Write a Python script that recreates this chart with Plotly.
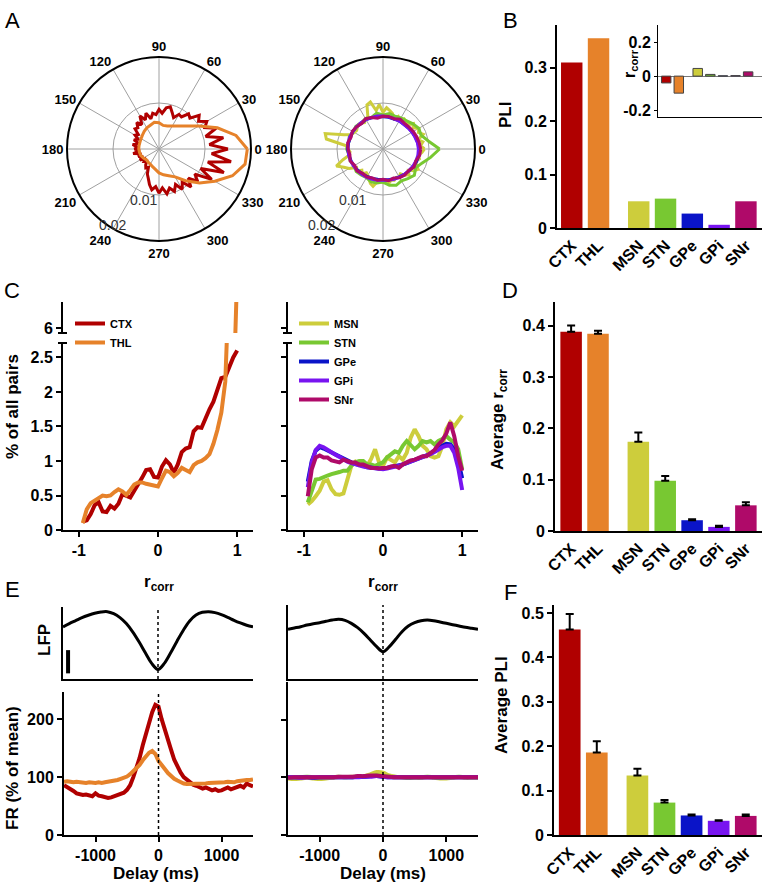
import plotly.graph_objects as go

W, H = 762, 890
FONT = "Liberation Sans, Arial, sans-serif"

REGIONS = ["CTX", "THL", "MSN", "STN", "GPe", "GPi", "SNr"]
COLORS = ["#B00000", "#E6822A", "#CDCD3C", "#78C832", "#0A14C8", "#7814F0", "#AF0A69"]
COL = dict(zip(REGIONS, COLORS))
X_POS = [0, 1, 2.5, 3.5, 4.5, 5.5, 6.5]

# --- A: phase histograms (x 1e-3) ---
THETA_5 = list(range(0, 360, 5))
THETA_10 = list(range(0, 360, 10))
CTX_PHASE = [15.0, 11.0, 14.2, 10.5, 13.2, 11.0, 12.0, 10.5, 11.4, 9.5,
             10.0, 8.5, 8.7, 7.5, 8.4, 9.5, 9.1, 7.8, 8.6, 7.5,
             7.9, 6.8, 8.3, 7.0, 8.3, 6.5, 7.5, 6.5, 6.8, 5.5,
             6.0, 5.0, 5.8, 4.5, 5.8, 4.8, 5.3, 4.2, 5.7, 4.0,
             4.8, 3.8, 4.8, 3.5, 4.2, 3.8, 4.5, 5.0, 4.6, 6.0,
             6.8, 8.0, 9.0, 8.2, 9.6, 8.5, 9.9, 8.8, 9.8, 8.5,
             10.1, 8.8, 10.8, 9.0, 11.0, 9.5, 13.2, 10.0, 15.0, 11.0,
             15.9, 11.5]
THL_PHASE = [19.2, 17.0, 13.5, 10.0, 7.8, 6.5, 5.8, 5.3, 5.2, 5.7,
             5.9, 5.5, 5.3, 5.0, 4.7, 4.5, 4.4, 4.4, 4.4, 4.3,
             4.2, 3.9, 3.6, 3.7, 3.8, 4.1, 4.5, 5.2, 5.7, 6.2,
             7.0, 9.0, 11.5, 14.0, 17.0, 19.0]
MSN_PHASE = [9.0, 8.2, 8.8, 7.9, 9.3, 8.5, 9.0, 8.0, 8.6, 7.5,
             7.8, 8.0, 7.2, 7.8, 7.0, 8.0, 8.5, 9.0, 8.0, 9.7,
             8.5, 10.6, 10.2, 7.8, 7.5, 7.0, 7.4, 7.6, 7.3, 7.0,
             7.2, 7.5, 9.0, 13.0, 12.5, 8.0, 7.6, 7.2, 7.4, 9.0,
             10.8, 9.4, 8.5, 7.0, 7.4, 6.5, 7.0, 6.3, 6.6, 7.2,
             8.0, 8.4, 7.2, 7.0, 7.3, 6.8, 7.5, 7.0, 7.2, 6.8,
             7.0, 6.6, 7.4, 8.0, 7.2, 8.2, 8.8, 8.0, 7.6, 8.2,
             7.8, 8.5]
STN_PHASE = [12.3, 10.0, 8.8, 9.0, 8.5, 8.0, 7.8, 7.6, 7.8, 7.4,
             7.9, 7.3, 7.6, 7.4, 7.7, 7.5, 7.8, 7.6, 7.9, 7.5,
             7.6, 7.3, 7.6, 7.4, 7.2, 7.6, 7.5, 7.2, 8.0, 8.4,
             8.0, 8.4, 8.9, 8.2, 9.0, 10.5]
GPE_PHASE = [7.9, 7.7, 7.5, 7.3, 7.2, 7.0, 7.1, 6.9, 7.0, 7.0,
             7.1, 7.2, 7.4, 7.3, 7.5, 7.6, 7.5, 7.6, 7.7, 7.5,
             7.4, 7.3, 7.2, 7.0, 6.9, 6.8, 6.7, 6.7, 6.8, 6.9,
             7.0, 7.2, 7.4, 7.6, 7.8, 7.9]
GPI_PHASE = [7.7, 7.6, 7.4, 7.3, 7.1, 7.0, 7.0, 7.0, 7.1, 7.2,
             7.3, 7.3, 7.4, 7.5, 7.5, 7.6, 7.7, 7.7, 7.6, 7.6,
             7.5, 7.4, 7.3, 7.2, 7.1, 7.0, 6.9, 6.8, 6.9, 7.0,
             7.1, 7.2, 7.3, 7.5, 7.6, 7.7]
SNR_PHASE = [8.2, 8.0, 7.8, 7.6, 7.4, 7.3, 7.5, 7.0, 7.2, 7.1,
             6.8, 7.3, 7.6, 7.2, 7.5, 7.7, 7.4, 7.8, 7.6, 7.3,
             7.6, 7.1, 7.4, 6.9, 7.0, 6.7, 6.9, 6.6, 7.0, 6.7,
             7.2, 7.4, 7.3, 7.8, 7.6, 8.1]
RADIAL_TICKS = [0.01, 0.02]
RADIAL_TEXT = ["0.01", "0.02"]

# --- B ---
PLI_POP = [0.310, 0.355, 0.050, 0.055, 0.027, 0.006, 0.050]
RCORR_PLI = [-0.04, -0.10, 0.045, 0.01, 0.002, 0.003, 0.025]

# --- C: r_corr distributions (% of pairs) ---
R_CORR = [-0.95, -0.9, -0.85, -0.8, -0.75, -0.7, -0.65, -0.6, -0.55, -0.5,
          -0.45, -0.4, -0.35, -0.3, -0.25, -0.2, -0.15, -0.1, -0.05, 0.0,
          0.05, 0.1, 0.15, 0.2, 0.25, 0.3, 0.35, 0.4, 0.45, 0.5,
          0.55, 0.6, 0.65, 0.7, 0.75, 0.8, 0.85, 0.9, 0.95, 1.0]
CTX_DIST = [0.12, 0.14, 0.23, 0.36, 0.40, 0.27, 0.26, 0.35, 0.31, 0.38,
            0.52, 0.49, 0.47, 0.57, 0.66, 0.76, 0.87, 0.88, 0.77, 0.76,
            0.92, 1.01, 0.95, 0.83, 0.95, 1.13, 1.18, 1.20, 1.43, 1.49,
            1.48, 1.62, 1.75, 1.86, 2.02, 2.20, 2.22, 2.36, 2.50, 2.60]
THL_DIST = [0.10, 0.30, 0.39, 0.43, 0.47, 0.50, 0.49, 0.50, 0.55, 0.59,
            0.56, 0.51, 0.58, 0.66, 0.69, 0.69, 0.67, 0.66, 0.64, 0.63,
            0.75, 0.86, 0.84, 0.78, 0.83, 0.90, 0.87, 0.84, 0.94, 0.98,
            1.00, 1.04, 1.10, 1.25, 1.45, 1.70, 2.15, 3.00, 4.70, 6.80]
MSN_DIST = [0.37, 0.42, 0.49, 0.57, 0.70, 0.72, 0.59, 0.52, 0.51, 0.53,
            0.73, 0.93, 0.99, 0.94, 0.95, 0.93, 1.03, 1.17, 0.98, 0.93,
            1.05, 1.02, 0.98, 1.07, 1.02, 1.12, 1.34, 1.46, 1.36, 1.22,
            1.17, 1.07, 1.05, 1.07, 1.22, 1.46, 1.56, 1.50, 1.58, 1.66]
STN_DIST = [0.40, 0.59, 0.73, 0.74, 0.77, 0.79, 0.81, 0.82, 0.84, 0.86,
            0.86, 0.93, 0.98, 1.00, 1.00, 0.95, 0.95, 0.93, 0.95, 0.98,
            1.05, 1.10, 1.14, 1.12, 1.22, 1.29, 1.23, 1.17, 1.22, 1.29,
            1.27, 1.29, 1.24, 1.29, 1.32, 1.36, 1.31, 1.27, 1.17, 0.88]
GPE_DIST = [0.70, 1.00, 1.15, 1.20, 1.18, 1.15, 1.12, 1.09, 1.06, 1.03,
            1.00, 0.98, 0.96, 0.95, 0.93, 0.91, 0.90, 0.89, 0.89, 0.89,
            0.90, 0.91, 0.92, 0.94, 0.95, 0.97, 0.99, 1.01, 1.03, 1.06,
            1.08, 1.11, 1.14, 1.18, 1.22, 1.25, 1.24, 1.17, 1.00, 0.75]
GPI_DIST = [0.62, 0.98, 1.16, 1.22, 1.20, 1.16, 1.12, 1.09, 1.06, 1.02,
            0.99, 0.97, 0.95, 0.94, 0.92, 0.91, 0.90, 0.89, 0.88, 0.88,
            0.89, 0.90, 0.92, 0.93, 0.95, 0.97, 0.99, 1.01, 1.03, 1.05,
            1.08, 1.10, 1.13, 1.17, 1.20, 1.22, 1.22, 1.12, 0.90, 0.58]
SNR_DIST = [0.49, 0.88, 1.05, 1.08, 1.05, 1.05, 1.01, 0.99, 0.98, 1.02,
            1.00, 0.98, 0.98, 0.95, 0.95, 0.93, 0.90, 0.90, 0.89, 0.90,
            0.90, 0.92, 0.93, 0.90, 0.95, 0.98, 1.01, 1.02, 1.05, 1.07,
            1.07, 1.12, 1.16, 1.24, 1.30, 1.40, 1.56, 1.36, 1.07, 0.86]

# --- D ---
AVG_RCORR = [0.388, 0.384, 0.174, 0.098, 0.021, 0.008, 0.050]
AVG_RCORR_SEM = [0.012, 0.006, 0.018, 0.009, 0.002, 0.002, 0.006]

# --- E: LFP-triggered averages ---
DELAY_50 = list(range(-1500, 1501, 50))
DELAY_100 = list(range(-1500, 1501, 100))
LFP_LEFT = [15.7, 16.7, 17.6, 18.5, 19.2, 19.8, 20.2, 20.3, 19.7, 18.5,
            16.7, 14.2, 11.2, 7.9, 4.7, 2.9, 4.7, 7.9, 11.4, 14.7,
            17.5, 19.3, 20.1, 20.3, 20.0, 19.4, 18.6, 17.7, 16.9, 16.2, 15.7]
LFP_RIGHT = [14.9, 15.3, 15.7, 16.2, 16.6, 16.9, 17.3, 17.7, 17.9, 17.6,
             16.7, 15.4, 13.7, 11.7, 9.7, 8.2, 9.7, 11.9, 14.2, 15.9,
             16.9, 17.5, 17.7, 17.5, 17.1, 16.7, 16.3, 15.9, 15.5, 15.2, 14.9]
CTX_FR = [86, 83, 80, 76, 72, 70, 69, 70, 68, 67,
          72, 68, 67, 65, 64, 65, 67, 68, 70, 73,
          78, 86, 100, 115, 133, 155, 176, 195, 212, 225,
          222, 200, 184, 165, 147, 130, 118, 108, 100, 95,
          90, 87, 85, 82, 80, 82, 79, 77, 79, 76,
          77, 80, 82, 79, 81, 84, 85, 82, 89, 86, 84]
THL_FR = [92, 93, 92, 91, 92, 91, 91, 90, 91, 90,
          90, 91, 90, 91, 92, 92, 93, 95, 97, 99,
          101, 105, 110, 115, 121, 129, 137, 142, 145, 140,
          128, 122, 114, 107, 101, 97, 94, 91, 89, 88,
          88, 88, 88, 89, 89, 89, 90, 90, 90, 91,
          91, 91, 92, 92, 91, 93, 94, 94, 95, 95, 96]
MSN_FR = [98, 97, 98, 99, 98, 97, 98, 99, 100, 100, 101, 101, 102, 105, 109, 108,
          103, 101, 100, 99, 99, 99, 100, 99, 98, 98, 99, 100, 99, 99, 99]
STN_FR = [100, 99, 100, 101, 100, 99, 100, 100, 101, 100, 100, 101, 101, 102, 103, 102,
          101, 100, 100, 99, 100, 100, 101, 100, 99, 100, 100, 101, 100, 100, 100]
GPE_FR = [100, 100, 100, 100, 99, 100, 100, 100, 100, 100, 100, 101, 101, 102, 102, 101,
          100, 100, 100, 100, 100, 100, 100, 100, 100, 100, 100, 100, 100, 100, 100]
GPI_FR = [100, 100, 99, 100, 100, 100, 100, 100, 100, 100, 100, 100, 101, 101, 102, 101,
          100, 100, 100, 100, 100, 100, 100, 100, 100, 100, 100, 100, 100, 100, 100]
SNR_FR = [99, 100, 100, 100, 100, 100, 100, 100, 101, 101, 101, 102, 102, 103, 103, 102,
          101, 100, 100, 100, 100, 100, 100, 100, 100, 100, 100, 100, 100, 100, 100]

# --- F ---
AVG_PLI = [0.463, 0.186, 0.134, 0.073, 0.044, 0.032, 0.043]
AVG_PLI_SEM = [0.035, 0.025, 0.015, 0.006, 0.002, 0.001, 0.003]


def px_x(px):
    return px / W


def px_y(py):
    return 1 - py / H


def tfont(size=16, bold=True, color="black"):
    return dict(family=FONT, size=size, color=color, weight="bold" if bold else "normal")


def axis(domain, anchor, **kw):
    d = dict(domain=domain, anchor=anchor, showline=True, linecolor="black", linewidth=2,
             ticks="outside", ticklen=5, tickwidth=2, tickcolor="black", automargin=False,
             showgrid=False, zeroline=False, tickfont=tfont())
    d.update(kw)
    return d


def closed(vals, scale=1.0):
    v = [x * scale for x in vals]
    return v + v[:1]


fig = go.Figure()

# A: polar histograms
for name, th, vals, sub in [("CTX", THETA_5, CTX_PHASE, "polar"),
                            ("THL", THETA_10, THL_PHASE, "polar"),
                            ("MSN", THETA_5, MSN_PHASE, "polar2"),
                            ("STN", THETA_10, STN_PHASE, "polar2"),
                            ("GPe", THETA_10, GPE_PHASE, "polar2"),
                            ("GPi", THETA_10, GPI_PHASE, "polar2"),
                            ("SNr", THETA_10, SNR_PHASE, "polar2")]:
    fig.add_trace(go.Scatterpolar(r=closed(vals, 1e-3), theta=closed(th), mode="lines",
                                  line=dict(color=COL[name], width=3), subplot=sub,
                                  showlegend=False))

# B: PLI bars + inset
fig.add_trace(go.Bar(x=X_POS, y=PLI_POP, marker=dict(color=COLORS, line=dict(width=0)),
                     width=0.8, xaxis="x", yaxis="y", showlegend=False))
fig.add_trace(go.Bar(x=X_POS, y=RCORR_PLI, marker=dict(color=COLORS, line=dict(color="#444", width=1)),
                     width=0.75, xaxis="x2", yaxis="y2", showlegend=False))

# C: distributions with a broken y-axis
for name, vals in [("CTX", CTX_DIST), ("THL", THL_DIST)]:
    for ya, show in [("y3", True), ("y4", False)]:
        fig.add_trace(go.Scatter(x=R_CORR, y=vals, mode="lines", name=name,
                                 line=dict(color=COL[name], width=4),
                                 xaxis="x3", yaxis=ya, showlegend=show, legend="legend"))
for name, vals in [("MSN", MSN_DIST), ("STN", STN_DIST), ("GPe", GPE_DIST),
                   ("GPi", GPI_DIST), ("SNr", SNR_DIST)]:
    for ya, show in [("y5", True), ("y6", False)]:
        fig.add_trace(go.Scatter(x=R_CORR, y=vals, mode="lines", name=name,
                                 line=dict(color=COL[name], width=4),
                                 xaxis="x5", yaxis=ya, showlegend=show, legend="legend2"))

# D: average r_corr
fig.add_trace(go.Bar(x=X_POS, y=AVG_RCORR, marker=dict(color=COLORS, line=dict(width=0)), width=0.8,
                     error_y=dict(type="data", symmetric=False, array=AVG_RCORR_SEM,
                                  arrayminus=[0] * len(AVG_RCORR_SEM), color="black",
                                  thickness=2, width=4),
                     xaxis="x7", yaxis="y7", showlegend=False))

# E: LFP + firing rate
fig.add_trace(go.Scatter(x=DELAY_100, y=LFP_LEFT, mode="lines", line=dict(color="black", width=3, shape="spline"),
                         xaxis="x8", yaxis="y8", showlegend=False))
for name, vals in [("CTX", CTX_FR), ("THL", THL_FR)]:
    fig.add_trace(go.Scatter(x=DELAY_50, y=vals, mode="lines", line=dict(color=COL[name], width=4),
                             xaxis="x9", yaxis="y9", showlegend=False))
fig.add_trace(go.Scatter(x=DELAY_100, y=LFP_RIGHT, mode="lines", line=dict(color="black", width=3, shape="spline"),
                         xaxis="x10", yaxis="y10", showlegend=False))
for name, vals in [("MSN", MSN_FR), ("STN", STN_FR), ("GPe", GPE_FR), ("GPi", GPI_FR), ("SNr", SNR_FR)]:
    fig.add_trace(go.Scatter(x=DELAY_100, y=vals, mode="lines", line=dict(color=COL[name], width=4, shape="spline"),
                             xaxis="x11", yaxis="y11", showlegend=False))

# F: average PLI
fig.add_trace(go.Bar(x=X_POS, y=AVG_PLI, marker=dict(color=COLORS, line=dict(width=0)), width=0.8,
                     error_y=dict(type="data", symmetric=False, array=AVG_PLI_SEM,
                                  arrayminus=[0] * len(AVG_PLI_SEM), color="black",
                                  thickness=2, width=4),
                     xaxis="x12", yaxis="y12", showlegend=False))


def polar_layout(xdom):
    return dict(
        domain=dict(x=xdom, y=[px_y(241), px_y(57)]), bgcolor="white",
        radialaxis=dict(range=[0, 0.02], tickvals=RADIAL_TICKS, showticklabels=False,
                        angle=230, showline=False, ticks="", gridcolor="#a0a0a0", gridwidth=1),
        angularaxis=dict(tickvals=list(range(0, 360, 30)), ticktext=[str(a) for a in range(0, 360, 30)],
                         direction="counterclockwise", rotation=0, linecolor="black", linewidth=2,
                         gridcolor="#a0a0a0", ticks="", tickfont=tfont(13)),
    )


bar_x = dict(tickvals=X_POS, ticktext=REGIONS, tickangle=-45, ticks="")
c_left = [px_x(63), px_x(253)]
c_right = [px_x(288), px_x(478)]
c_low = [px_y(530), px_y(343)]
c_up = [px_y(333), px_y(302)]
half_ticks = [0, 0.5, 1, 1.5, 2, 2.5]
half_text = ["0", "0.5", "1", "1.5", "2", "2.5"]

fig.update_layout(
    template="none",
    width=W, height=H, margin=dict(l=0, r=0, t=0, b=0, autoexpand=False),
    paper_bgcolor="white", plot_bgcolor="white",
    font=dict(family=FONT, color="black"),
    polar=polar_layout([px_x(67), px_x(251)]),
    polar2=polar_layout([px_x(291), px_x(475)]),
    xaxis=axis([px_x(557), 1.0], "y", range=[-0.55, 7.1], **bar_x),
    yaxis=axis([px_y(228), px_y(25)], "x", range=[0, 0.38], tickvals=[0, 0.1, 0.2, 0.3]),
    xaxis2=axis([px_x(658), 1.0], "y2", range=[-0.65, 7.6], showticklabels=False, ticks="", linewidth=1),
    yaxis2=axis([px_y(117), px_y(25)], "x2", range=[-0.24, 0.3], tickvals=[-0.2, 0, 0.2],
                ticktext=["-0.2", "0", "0.2"], linewidth=1, ticklen=3, tickwidth=1,
                zeroline=True, zerolinecolor="#777", zerolinewidth=1),
    xaxis3=axis(c_left, "y3", range=[-1.2, 1.2], tickvals=[-1, 0, 1], ticktext=["-1", "0", "1"]),
    yaxis3=axis(c_low, "x3", range=[0, 2.71], tickvals=half_ticks, ticktext=half_text),
    yaxis4=axis(c_up, "x3", range=[5.93, 6.38], tickvals=[6], ticktext=["6"]),
    xaxis5=axis(c_right, "y5", range=[-1.2, 1.2], tickvals=[-1, 0, 1], ticktext=["-1", "0", "1"]),
    yaxis5=axis(c_low, "x5", range=[0, 2.71], tickvals=half_ticks, showticklabels=False),
    yaxis6=axis(c_up, "x5", range=[5.93, 6.38], tickvals=[6], showticklabels=False),
    xaxis7=axis([px_x(555), 1.0], "y7", range=[-0.6, 7.1], **bar_x),
    yaxis7=axis([px_y(531), px_y(302)], "x7", range=[0, 0.446], tickvals=[0, 0.1, 0.2, 0.3, 0.4]),
    xaxis8=axis(c_left, "y8", range=[-1500, 1500], ticks="", showticklabels=False),
    yaxis8=axis([px_y(679), px_y(607)], "x8", range=[0, 21.7], ticks="", showticklabels=False),
    xaxis9=axis([px_x(64), px_x(253)], "y9", range=[-1500, 1500], tickvals=[-1000, 0, 1000],
                ticktext=["-1000", "0", "1000"]),
    yaxis9=axis([px_y(835), px_y(692)], "x9", range=[0, 247], tickvals=[0, 100, 200]),
    xaxis10=axis(c_right, "y10", range=[-1500, 1500], ticks="", showticklabels=False),
    yaxis10=axis([px_y(679), px_y(605)], "x10", range=[0, 22.2], ticks="", showticklabels=False),
    xaxis11=axis(c_right, "y11", range=[-1500, 1500], tickvals=[-1000, 0, 1000],
                 ticktext=["-1000", "0", "1000"]),
    yaxis11=axis([px_y(835), px_y(682)], "x11", range=[0, 265], tickvals=[0, 100, 200], showticklabels=False),
    xaxis12=axis([px_x(554), 1.0], "y12", range=[-0.58, 7.1], **bar_x),
    yaxis12=axis([px_y(835), px_y(605)], "x12", range=[0, 0.518],
                 tickvals=[0, 0.1, 0.2, 0.3, 0.4, 0.5]),
    legend=dict(x=px_x(70), y=px_y(309), xanchor="left", yanchor="top", bgcolor="rgba(0,0,0,0)",
                font=tfont(11), itemwidth=30, tracegroupgap=0),
    legend2=dict(x=px_x(294), y=px_y(309), xanchor="left", yanchor="top", bgcolor="rgba(0,0,0,0)",
                 font=tfont(11), itemwidth=30, tracegroupgap=0),
)

# radial tick labels of the polar plots (kept horizontal, as in the reference)
for cx in (159, 383):
    for val, text, (dx, dy) in zip(RADIAL_TICKS, RADIAL_TEXT, [(-31, 41), (-62, 66)]):
        fig.add_annotation(text=text, x=px_x(cx + dx), y=px_y(149 + dy), xref="paper", yref="paper",
                           showarrow=False, font=tfont(14, bold=False, color="#333"))

# panel letters and axis titles
notes = [("A", 12, 21, 22, 0, False), ("B", 510, 21, 22, 0, False),
         ("C", 12, 290, 22, 0, False), ("D", 510, 290, 22, 0, False),
         ("E", 12, 589, 22, 0, False), ("F", 510, 592, 22, 0, False),
         ("PLI", 506, 115, 17, -90, True),
         ("r<sub>corr</sub>", 630, 64, 16, -90, True),
         ("% of all pairs", 12, 407, 17, -90, True),
         ("r<sub>corr</sub>", 159, 583, 17, 0, True),
         ("r<sub>corr</sub>", 383, 583, 17, 0, True),
         ("Average r<sub>corr</sub>", 499, 420, 17, -90, True),
         ("LFP", 44, 640, 17, -90, True),
         ("FR (% of mean)", 12, 768, 17, -90, True),
         ("Delay (ms)", 156, 873, 17, 0, True),
         ("Delay (ms)", 383, 873, 17, 0, True),
         ("Average PLI", 501, 705, 17, -90, True)]
for text, x, y, size, ang, bold in notes:
    fig.add_annotation(text=text, x=px_x(x), y=px_y(y), xref="paper", yref="paper",
                       showarrow=False, textangle=ang, xanchor="center", yanchor="middle",
                       font=tfont(size, bold=bold))

# dotted zero-delay lines, LFP scale bar, axis-break marks
for xa, ya in [("x8", "y8"), ("x9", "y9"), ("x10", "y10"), ("x11", "y11")]:
    fig.add_shape(type="line", x0=0, x1=0, y0=0, y1=1, xref=xa, yref=ya + " domain",
                  line=dict(color="black", width=1.5, dash="dot"))
fig.add_shape(type="line", x0=-1420, x1=-1420, y0=1.7, y1=8.7, xref="x8", yref="y8",
              line=dict(color="black", width=4))
for xl in (63, 288):
    for yy in (333, 343):
        fig.add_shape(type="line", x0=px_x(xl - 5), x1=px_x(xl + 4), y0=px_y(yy), y1=px_y(yy),
                      xref="paper", yref="paper", line=dict(color="black", width=2))

fig.write_html("out.html", config={"displayModeBar": False},
               post_script="document.body.style.margin='0';")
